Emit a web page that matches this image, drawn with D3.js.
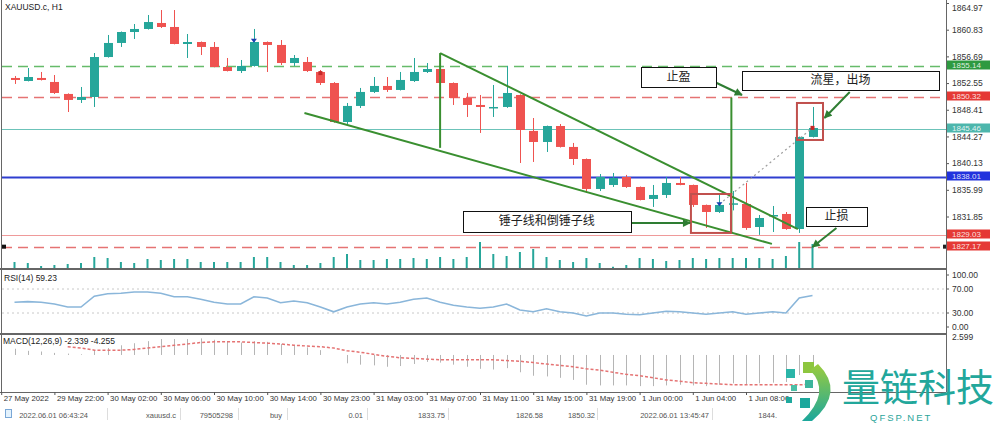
<!DOCTYPE html>
<html>
<head>
<meta charset="utf-8">
<script src="https://cdn.jsdelivr.net/npm/d3@7"></script>
<style>
body { margin: 0; background: #fff; }
svg { display: block; font-family: "Liberation Sans", Arial, sans-serif; }
</style>
</head>
<body>
<svg id="chart" width="1001" height="423"></svg>
<script>
// XAUUSD.c H1, one value per bar (bar 0 .. bar 60)
var opens = [1853.34, 1852.87, 1853.34, 1852.72, 1850.86, 1849.93, 1850.39, 1856.59, 1858.77, 1860.47,
             1860.94, 1861.87, 1861.25, 1858.61, 1858.92, 1858.15, 1855.04, 1854.42, 1855.20, 1858.92,
             1858.46, 1855.66, 1855.82, 1854.27, 1852.56, 1846.51, 1849.00, 1851.17, 1852.10, 1851.48,
             1852.87, 1854.27, 1854.73, 1852.56, 1850.24, 1849.15, 1848.68, 1848.84, 1850.70, 1845.12,
             1843.41, 1845.89, 1842.64, 1840.77, 1836.12, 1836.74, 1837.98, 1836.43, 1834.57, 1835.19,
             1837.05, 1836.74, 1833.64, 1832.55, 1833.70, 1833.79, 1830.22, 1831.90, 1832.24, 1829.91,
             1844.19];
var highs = [1853.65, 1854.89, 1854.27, 1853.80, 1850.95, 1851.94, 1857.21, 1860.01, 1860.55, 1861.71,
             1863.11, 1863.88, 1863.88, 1860.16, 1859.00, 1858.92, 1856.44, 1856.13, 1860.94, 1859.00,
             1859.23, 1856.90, 1856.59, 1854.58, 1852.70, 1849.46, 1851.79, 1853.49, 1853.49, 1854.27,
             1856.44, 1855.66, 1854.90, 1852.65, 1851.01, 1850.70, 1852.25, 1855.20, 1850.80, 1847.13,
             1845.95, 1846.20, 1843.26, 1840.85, 1838.44, 1838.60, 1838.30, 1836.50, 1836.74, 1837.98,
             1837.98, 1836.80, 1833.70, 1835.50, 1835.80, 1837.05, 1832.08, 1833.48, 1832.55, 1844.25,
             1848.84];
var lows = [1852.41, 1852.80, 1852.95, 1850.86, 1848.06, 1849.46, 1848.84, 1856.50, 1858.15, 1859.39,
            1860.85, 1861.09, 1858.55, 1856.44, 1856.90, 1855.00, 1854.35, 1854.11, 1855.10, 1854.27,
            1855.35, 1855.20, 1854.27, 1852.25, 1846.40, 1846.20, 1848.68, 1851.01, 1851.17, 1851.40,
            1852.72, 1854.11, 1852.45, 1849.15, 1847.29, 1844.81, 1847.29, 1848.70, 1840.15, 1840.31,
            1841.86, 1842.55, 1839.84, 1835.50, 1835.80, 1836.43, 1836.28, 1834.35, 1833.33, 1834.72,
            1836.70, 1833.33, 1830.07, 1832.40, 1832.80, 1829.78, 1829.00, 1829.45, 1829.78, 1829.30,
            1844.10];
var closes = [1853.03, 1853.49, 1853.03, 1851.01, 1849.93, 1850.39, 1856.59, 1858.77, 1860.47, 1860.94,
              1862.02, 1861.25, 1858.61, 1858.92, 1858.15, 1855.04, 1854.42, 1855.20, 1858.92, 1858.46,
              1855.66, 1856.44, 1854.42, 1852.56, 1846.51, 1849.00, 1851.17, 1852.10, 1851.48, 1853.03,
              1854.27, 1854.73, 1852.56, 1850.24, 1849.15, 1848.84, 1848.84, 1851.01, 1845.27, 1843.41,
              1845.89, 1842.64, 1840.77, 1836.12, 1837.98, 1837.83, 1836.43, 1834.41, 1835.19, 1837.05,
              1836.74, 1833.64, 1832.55, 1833.64, 1833.90, 1830.07, 1831.62, 1832.08, 1829.91, 1844.19,
              1845.58];
var volumes = [1800, 1500, 600, 900, 1200, 1500, 3300, 3000, 1800, 1500,
               2700, 2400, 2700, 2700, 1800, 1800, 1800, 1800, 3300, 3300,
               1800, 900, 900, 1500, 3300, 4200, 2400, 2400, 2700, 2700,
               3000, 2700, 3300, 2700, 3300, 7800, 4200, 3600, 4800, 5700,
               3300, 2400, 1800, 3000, 1500, 400, 900, 3000, 2700, 2100,
               2400, 3000, 2700, 3000, 3000, 3000, 3000, 2700, 3600, 7800,
               7200];
var rsiValues = [48, 49, 48, 45, 40, 40, 58, 62, 63, 65,
                 65, 63, 57, 57, 53, 48, 45, 45, 57, 55,
                 47, 50, 47, 40, 32, 40, 45, 47, 45, 48,
                 53, 55, 48, 43, 40, 38, 40, 45, 35, 32,
                 37, 32, 30, 25, 30, 30, 28, 27, 30, 33,
                 32, 30, 28, 30, 32, 28, 30, 32, 30, 55,
                 59.23];
var macdMain = [0.9, 0.6, 0.5, 0.3, 0.2, 0.1, 0.6, 1.0, 1.4, 1.7,
                2.0, 2.3, 2.3, 2.3, 2.4, 2.2, 2.0, 1.8, 2.0, 1.9,
                1.6, 1.4, 1.1, 0.7, 0.0, -1.2, -1.4, -1.5, -1.7, -1.6,
                -1.3, -1.0, -1.1, -1.4, -1.7, -2.0, -2.1, -1.9, -2.5, -3.0,
                -3.1, -3.3, -3.6, -4.3, -4.4, -4.4, -4.4, -4.5, -4.5, -4.4,
                -4.3, -4.4, -4.5, -4.3, -4.1, -4.2, -4.1, -4.0, -3.9, -2.9,
                -2.339];
var macdSignal = [null, null, null, null, 1.2, 1.0, 0.7, 0.7, 0.7, 0.8,
                  1.0, 1.2, 1.4, 1.6, 1.8, 1.9, 1.9, 1.9, 1.8, 1.7,
                  1.6, 1.4, 1.3, 1.2, 1.0, 0.6, 0.4, 0.1, -0.2, -0.4,
                  -0.5, -0.6, -0.7, -0.7, -0.7, -0.7, -0.7, -0.8, -0.9, -1.1,
                  -1.3, -1.5, -1.7, -2.0, -2.2, -2.5, -2.8, -3.0, -3.3, -3.6,
                  -3.8, -4.0, -4.1, -4.2, -4.3, -4.3, -4.3, -4.3, -4.3, -4.3,
                  -4.255];

var timeTickBars = [-1, 3, 7, 11, 15, 19, 23, 27, 31, 35, 39, 43, 47, 51, 55];
var timeTickLabels = ["27 May 2022", "29 May 22:00", "30 May 02:00", "30 May 06:00", "30 May 10:00",
                      "30 May 14:00", "30 May 23:00", "31 May 03:00", "31 May 07:00", "31 May 11:00",
                      "31 May 15:00", "31 May 19:00", "1 Jun 00:00", "1 Jun 04:00", "1 Jun 08:00"];
var priceTicks = [1864.97, 1860.83, 1856.69, 1852.55, 1848.41, 1844.27, 1840.13, 1835.99, 1831.85];
var rsiTicks = [100, 70, 30, 0];
var macdTicks = [2.599];

// horizontal levels drawn on the chart
var levelPrices = [1855.14, 1850.32, 1845.46, 1838.01, 1829.03, 1827.17];

// pattern lines, [bar, price] pairs
var trendUpper = [[32, 1857.2], [58.9, 1829.9]];
var trendLower = [[21.8, 1847.9], [56.95, 1827.6]];
var measureLines = [[[32, 1857.2], [32, 1842.5]], [[53.9, 1850.3], [53.9, 1829.3]]];

// trade: buy 0.01 at 1833.75, closed 1844.x
var tradeMarks = [[18, 1859.1, "buy"], [23, 1854.1, "close"], [53, 1833.75, "buy"], [60, 1845.6, "close"]];
var tradePath = [[53, 1833.75], [60, 1845.6]];

// annotation boxes: text, bar from, bar to, price top, price bottom
var noteTexts = ["锤子线和倒锤子线", "止盈", "流星，出场", "止损"];
var noteBoxes = [[33.7, 46.35, 1832.7, 1829.45], [47.1, 52.74, 1855.04, 1851.94],
                 [54.7, 69.5, 1854.42, 1851.48], [59.5, 64.1, 1833.33, 1830.38]];
var noteArrows = [[[46.3, 1830.84], [50.8, 1830.84]], [[52.8, 1852.56], [54.7, 1850.7]],
                  [[62.8, 1851.17], [60.9, 1847.13]], [[61.8, 1830.07], [60.0, 1827.12]]];
var highlightBoxes = [[50.86, 53.87, 1835.34, 1829.3], [58.83, 60.79, 1849.46, 1843.72]];

var statusTexts = ["2022.06.01 06:43:24", "xauusd.c", "79505298", "buy", "0.01", "1833.75",
                   "1826.58", "1850.32", "2022.06.01 13:45:47", "1844."];

(function(root) {
    var svg, x, y, volY, rsiY, macdY;
    var axisX = 946;
    var mainBottom = 268;
    var UP = "#26a69a", DOWN = "#ef5350";

    function draw() {
        svg = d3.select("#chart");
        svg.append("rect").attr("width", 1001).attr("height", 423).attr("fill", "#fff");

        x = d3.scaleLinear().domain([0, 60]).range([14.5, 812.5]);
        y = d3.scaleLinear().domain([1831.85, 1864.97]).range([216.5, 3]);
        volY = d3.scaleLinear().domain([0, 9000]).range([mainBottom, 238]);
        rsiY = d3.scaleLinear().domain([0, 100]).range([331, 271]);
        macdY = d3.scaleLinear().domain([-5.35, 2.599]).range([392, 337]);

        var defs = svg.append("defs");
        defs.append("clipPath").attr("id", "mainClip")
            .append("rect").attr("x", 2).attr("y", 0).attr("width", axisX - 2).attr("height", mainBottom);
        defs.append("marker")
            .attr("id", "arrow")
            .attr("viewBox", "0 0 10 10")
            .attr("refX", 9).attr("refY", 5)
            .attr("markerWidth", 9).attr("markerHeight", 8)
            .attr("markerUnits", "userSpaceOnUse")
            .attr("orient", "auto")
            .append("path").attr("d", "M0,0 L10,5 L0,10 z").attr("fill", "#2e7d32");
        var grad = defs.append("linearGradient").attr("id", "logoGrad")
            .attr("x1", 0).attr("y1", 0).attr("x2", 0).attr("y2", 1);
        grad.append("stop").attr("offset", "0%").attr("stop-color", "#9ccc3c");
        grad.append("stop").attr("offset", "100%").attr("stop-color", "#1ca79c");

        drawMain();
        drawRsi();
        drawMacd();
        drawFrame();
        drawTimeAxis();
        drawStatus();
        drawLogo();
    }

    function drawMain() {
        var main = svg.append("g").attr("clip-path", "url(#mainClip)");
        var bars = d3.range(opens.length);

        // levels
        var levelStroke = ["#66bb6a", "#e57373", "#6cc3b9", "#2f3fd0", "#ef9a9a", "#e57373"];
        var levelDash = ["10,6", "10,6", null, null, null, "10,6"];
        var levelWidth = [1.5, 1.5, 1.2, 2, 1.2, 1.5];
        main.selectAll(".level")
            .data(levelPrices)
            .enter()
            .append("line")
            .attr("x1", 2).attr("x2", axisX)
            .attr("y1", function(d) { return Math.round(y(d)) + 0.5; })
            .attr("y2", function(d) { return Math.round(y(d)) + 0.5; })
            .attr("stroke", function(d, i) { return levelStroke[i]; })
            .attr("stroke-width", function(d, i) { return levelWidth[i]; })
            .attr("stroke-dasharray", function(d, i) { return levelDash[i]; });

        // volumes
        main.selectAll(".vol")
            .data(bars)
            .enter()
            .append("line")
            .attr("x1", function(d) { return x(d); })
            .attr("x2", function(d) { return x(d); })
            .attr("y1", volY(0))
            .attr("y2", function(d) { return volY(volumes[d]); })
            .attr("stroke", UP)
            .attr("stroke-width", 2);

        // candles
        main.selectAll(".wick")
            .data(bars)
            .enter()
            .append("line")
            .attr("x1", function(d) { return Math.round(x(d)) + 0.5; })
            .attr("x2", function(d) { return Math.round(x(d)) + 0.5; })
            .attr("y1", function(d) { return y(highs[d]); })
            .attr("y2", function(d) { return y(lows[d]); })
            .attr("stroke", function(d) { return closes[d] >= opens[d] ? UP : DOWN; })
            .attr("stroke-width", 1);

        main.selectAll(".body")
            .data(bars)
            .enter()
            .append("rect")
            .attr("x", function(d) { return Math.round(x(d)) - 4; })
            .attr("width", 9)
            .attr("y", function(d) { return y(Math.max(opens[d], closes[d])); })
            .attr("height", function(d) {
                return Math.max(1.5, Math.abs(y(opens[d]) - y(closes[d])));
            })
            .attr("fill", function(d) { return closes[d] >= opens[d] ? UP : DOWN; });

        // trade path and marks
        main.append("line")
            .attr("x1", x(tradePath[0][0])).attr("y1", y(tradePath[0][1]))
            .attr("x2", x(tradePath[1][0])).attr("y2", y(tradePath[1][1]))
            .attr("stroke", "#9e9e9e").attr("stroke-width", 1.2)
            .attr("stroke-dasharray", "2,3");
        main.selectAll(".mark")
            .data(tradeMarks)
            .enter()
            .append("path")
            .attr("transform", function(d) { return "translate(" + x(d[0]) + "," + y(d[1]) + ")"; })
            .attr("d", function(d) {
                return d[2] === "buy" ? "M-3,-2 L3,-2 L0,2 Z" : "M-2,-2 L2,-2 L2,2 L-2,2 Z";
            })
            .attr("fill", function(d) { return d[2] === "buy" ? "#1a3fb0" : "#c62828"; });

        // pattern lines
        var lineGen = d3.line()
            .x(function(d) { return x(d[0]); })
            .y(function(d) { return y(d[1]); });
        main.selectAll(".trend")
            .data([trendUpper, trendLower].concat(measureLines))
            .enter()
            .append("path")
            .attr("d", lineGen)
            .attr("fill", "none")
            .attr("stroke", "#3a8f30")
            .attr("stroke-width", 2);

        // highlight boxes
        main.selectAll(".hl")
            .data(highlightBoxes)
            .enter()
            .append("rect")
            .attr("x", function(d) { return x(d[0]); })
            .attr("width", function(d) { return x(d[1]) - x(d[0]); })
            .attr("y", function(d) { return y(d[2]); })
            .attr("height", function(d) { return y(d[3]) - y(d[2]); })
            .attr("fill", "none")
            .attr("stroke", "#c0504d")
            .attr("stroke-width", 2);

        // note arrows
        main.selectAll(".arrow")
            .data(noteArrows)
            .enter()
            .append("path")
            .attr("d", lineGen)
            .attr("stroke", "#2e7d32")
            .attr("stroke-width", 2)
            .attr("marker-end", "url(#arrow)");

        // note boxes
        var notes = main.selectAll(".note")
            .data(noteBoxes)
            .enter()
            .append("g");
        notes.append("rect")
            .attr("x", function(d) { return Math.round(x(d[0])) + 0.5; })
            .attr("width", function(d) { return Math.round(x(d[1]) - x(d[0])); })
            .attr("y", function(d) { return Math.round(y(d[2])) + 0.5; })
            .attr("height", function(d) { return Math.round(y(d[3]) - y(d[2])); })
            .attr("fill", "#fff")
            .attr("stroke", "#111")
            .attr("stroke-width", 1);
        notes.append("text")
            .text(function(d, i) { return noteTexts[i]; })
            .attr("x", function(d) { return (x(d[0]) + x(d[1])) / 2; })
            .attr("y", function(d) { return (y(d[2]) + y(d[3])) / 2 + 4; })
            .attr("text-anchor", "middle")
            .attr("font-family", "'Noto Sans CJK SC', sans-serif")
            .attr("font-size", 12)
            .attr("fill", "#222");

        svg.append("text")
            .text("XAUUSD.c, H1")
            .attr("x", 5).attr("y", 10)
            .attr("font-size", 8.5)
            .attr("fill", "#222");
    }

    function drawRsi() {
        var g = svg.append("g");
        g.selectAll(".rsiLevel")
            .data([70, 30])
            .enter()
            .append("line")
            .attr("x1", 2).attr("x2", axisX)
            .attr("y1", function(d) { return rsiY(d); })
            .attr("y2", function(d) { return rsiY(d); })
            .attr("stroke", "#c8c8c8")
            .attr("stroke-dasharray", "2,3");

        var line = d3.line()
            .x(function(d, i) { return x(i); })
            .y(function(d) { return rsiY(d); });
        g.append("path")
            .datum(rsiValues)
            .attr("d", line)
            .attr("fill", "none")
            .attr("stroke", "#8ab6da")
            .attr("stroke-width", 1.6);

        g.append("text")
            .text("RSI(14) 59.23")
            .attr("x", 4).attr("y", 281)
            .attr("font-size", 8.5)
            .attr("fill", "#222");

        var axis = svg.append("g").attr("transform", "translate(" + axisX + ",0)");
        axis.selectAll(".rsiTick")
            .data(rsiTicks)
            .enter()
            .append("text")
            .text(function(d) { return d3.format(".2f")(d); })
            .attr("x", 6)
            .attr("y", function(d) { return Math.min(327, Math.max(275, rsiY(d))) + 3; })
            .attr("font-size", 8.5)
            .attr("fill", "#333");
        axis.selectAll(".rsiTickLine")
            .data(rsiTicks)
            .enter()
            .append("line")
            .attr("x1", 0).attr("x2", 3)
            .attr("y1", function(d) { return Math.min(327, Math.max(275, rsiY(d))); })
            .attr("y2", function(d) { return Math.min(327, Math.max(275, rsiY(d))); })
            .attr("stroke", "#555");
    }

    function drawMacd() {
        var g = svg.append("g");
        var bars = d3.range(macdMain.length);
        g.selectAll(".hist")
            .data(bars)
            .enter()
            .append("line")
            .attr("x1", function(d) { return Math.round(x(d)) + 0.5; })
            .attr("x2", function(d) { return Math.round(x(d)) + 0.5; })
            .attr("y1", macdY(0))
            .attr("y2", function(d) { return macdY(macdMain[d]); })
            .attr("stroke", "#b5b5b5")
            .attr("stroke-width", 1);

        var line = d3.line()
            .defined(function(d) { return d !== null; })
            .x(function(d, i) { return x(i); })
            .y(function(d) { return macdY(d); });
        g.append("path")
            .datum(macdSignal)
            .attr("d", line)
            .attr("fill", "none")
            .attr("stroke", "#e57373")
            .attr("stroke-width", 1.5)
            .attr("stroke-dasharray", "3,2");

        g.append("text")
            .text("MACD(12,26,9) -2.339 -4.255")
            .attr("x", 3).attr("y", 344)
            .attr("font-size", 8.5)
            .attr("fill", "#222");

        var axis = svg.append("g").attr("transform", "translate(" + axisX + ",0)");
        axis.selectAll(".macdTick")
            .data(macdTicks)
            .enter()
            .append("text")
            .text(function(d) { return d; })
            .attr("x", 6)
            .attr("y", function(d) { return macdY(d) + 3; })
            .attr("font-size", 8.5)
            .attr("fill", "#333");
    }

    function drawFrame() {
        // price axis
        var axis = svg.append("g")
            .attr("transform", "translate(" + axisX + ",0)")
            .call(d3.axisRight(y).tickValues(priceTicks).tickSize(3).tickFormat(d3.format(".2f")));
        axis.select(".domain").remove();
        axis.selectAll(".tick line").attr("stroke", "#555");
        axis.selectAll(".tick text")
            .attr("x", 6)
            .attr("dy", function(d) { return y(d) < 6 ? "0.9em" : "0.32em"; })
            .attr("font-size", 8.5)
            .attr("font-family", "'Liberation Sans', Arial, sans-serif")
            .attr("fill", "#333");

        // price tags for levels
        var tagFill = ["#2e9a40", "#e53935", "#4db6ac", "#2233dd", "#e53935", "#e53935"];
        var tags = svg.selectAll(".tag")
            .data(levelPrices)
            .enter()
            .append("g")
            .attr("transform", function(d) { return "translate(" + (axisX + 1) + "," + (Math.round(y(d)) - 1) + ")"; });
        tags.append("rect")
            .attr("x", 0).attr("y", -4.5)
            .attr("width", 43).attr("height", 9)
            .attr("fill", function(d, i) { return tagFill[i]; });
        tags.append("text")
            .text(function(d) { return d3.format(".2f")(d); })
            .attr("x", 5).attr("y", 3)
            .attr("font-size", 8)
            .attr("fill", "#fff")
            .attr("fill-opacity", 0.85);

        svg.append("rect").attr("x", 2).attr("y", y(1827.17) - 2).attr("width", 4).attr("height", 4).attr("fill", "#111");
        svg.append("rect").attr("x", axisX - 3).attr("y", y(1827.17) - 2).attr("width", 4).attr("height", 4).attr("fill", "#222");

        // panel borders
        var frame = svg.append("g").attr("stroke", "#666").attr("fill", "none");
        frame.append("line").attr("x1", 1.5).attr("x2", 1.5).attr("y1", 0).attr("y2", 392);
        frame.append("line").attr("x1", axisX + 0.5).attr("x2", axisX + 0.5).attr("y1", 0).attr("y2", 392);
        frame.append("line").attr("x1", 0).attr("x2", axisX).attr("y1", 269).attr("y2", 269).attr("stroke-width", 2);
        frame.append("line").attr("x1", 0).attr("x2", axisX).attr("y1", 334).attr("y2", 334).attr("stroke-width", 2);
        frame.append("line").attr("x1", 0).attr("x2", axisX).attr("y1", 392.5).attr("y2", 392.5);
    }

    function drawTimeAxis() {
        var axis = svg.append("g")
            .attr("transform", "translate(0,392)")
            .call(d3.axisBottom(x)
                .tickValues(timeTickBars)
                .tickSize(3)
                .tickFormat(function(d, i) { return timeTickLabels[i]; }));
        axis.select(".domain").remove();
        axis.selectAll(".tick line").attr("stroke", "#555");
        axis.selectAll(".tick text")
            .attr("text-anchor", "start")
            .attr("x", 2)
            .attr("y", 3)
            .attr("font-size", 7.8)
            .attr("font-family", "'Liberation Sans', Arial, sans-serif")
            .attr("fill", "#333");
    }

    function drawStatus() {
        var ends = [88, 176, 233, 282, 363, 445, 543, 595, 709, 777];
        var seps = [107, 180, 238, 287, 367, 448, 597, 712];
        var g = svg.append("g");
        g.append("rect").attr("x", 5.5).attr("y", 409.5).attr("width", 6).attr("height", 8)
            .attr("fill", "#e3f2fd").attr("stroke", "#7aa7d6");
        g.selectAll(".sep")
            .data(seps)
            .enter()
            .append("line")
            .attr("x1", function(d) { return d + 0.5; })
            .attr("x2", function(d) { return d + 0.5; })
            .attr("y1", 408).attr("y2", 420)
            .attr("stroke", "#ddd");
        g.selectAll(".status")
            .data(statusTexts)
            .enter()
            .append("text")
            .text(function(d) { return d; })
            .attr("x", function(d, i) { return ends[i]; })
            .attr("y", 418)
            .attr("text-anchor", "end")
            .attr("font-size", 7.5)
            .attr("fill", "#555");
    }

    function drawLogo() {
        var g = svg.append("g");
        var squares = [[786, 369, 9, "#2bb5a8"], [803, 362, 11, "#8dc63f"], [791, 385, 6, "#4cbfa6"],
                       [805, 380, 8, "#3db59c"], [786, 397, 6, "#1fa99e"], [800, 398, 10, "#1ca79c"]];
        g.selectAll(".sq")
            .data(squares)
            .enter()
            .append("rect")
            .attr("x", function(d) { return d[0]; })
            .attr("y", function(d) { return d[1]; })
            .attr("width", function(d) { return d[2]; })
            .attr("height", function(d) { return d[2]; })
            .attr("fill", function(d) { return d[3]; });
        g.append("path")
            .attr("d", "M818,364 Q846,392 812,421 L802,421 Q832,392 810,370 Z")
            .attr("fill", "url(#logoGrad)");
        g.append("text")
            .text("量链科技")
            .attr("x", 842).attr("y", 401)
            .attr("font-family", "'Noto Sans CJK SC', sans-serif")
            .attr("font-size", 38)
            .attr("fill", "#22a79b");
        g.append("text")
            .text("QFSP.NET")
            .attr("x", 870).attr("y", 421)
            .attr("font-family", "'Liberation Sans', Arial, sans-serif")
            .attr("font-size", 9.5)
            .attr("letter-spacing", 2)
            .attr("fill", "#2aa59a");
    }

    draw();
})(window);
</script>
</body>
</html>
